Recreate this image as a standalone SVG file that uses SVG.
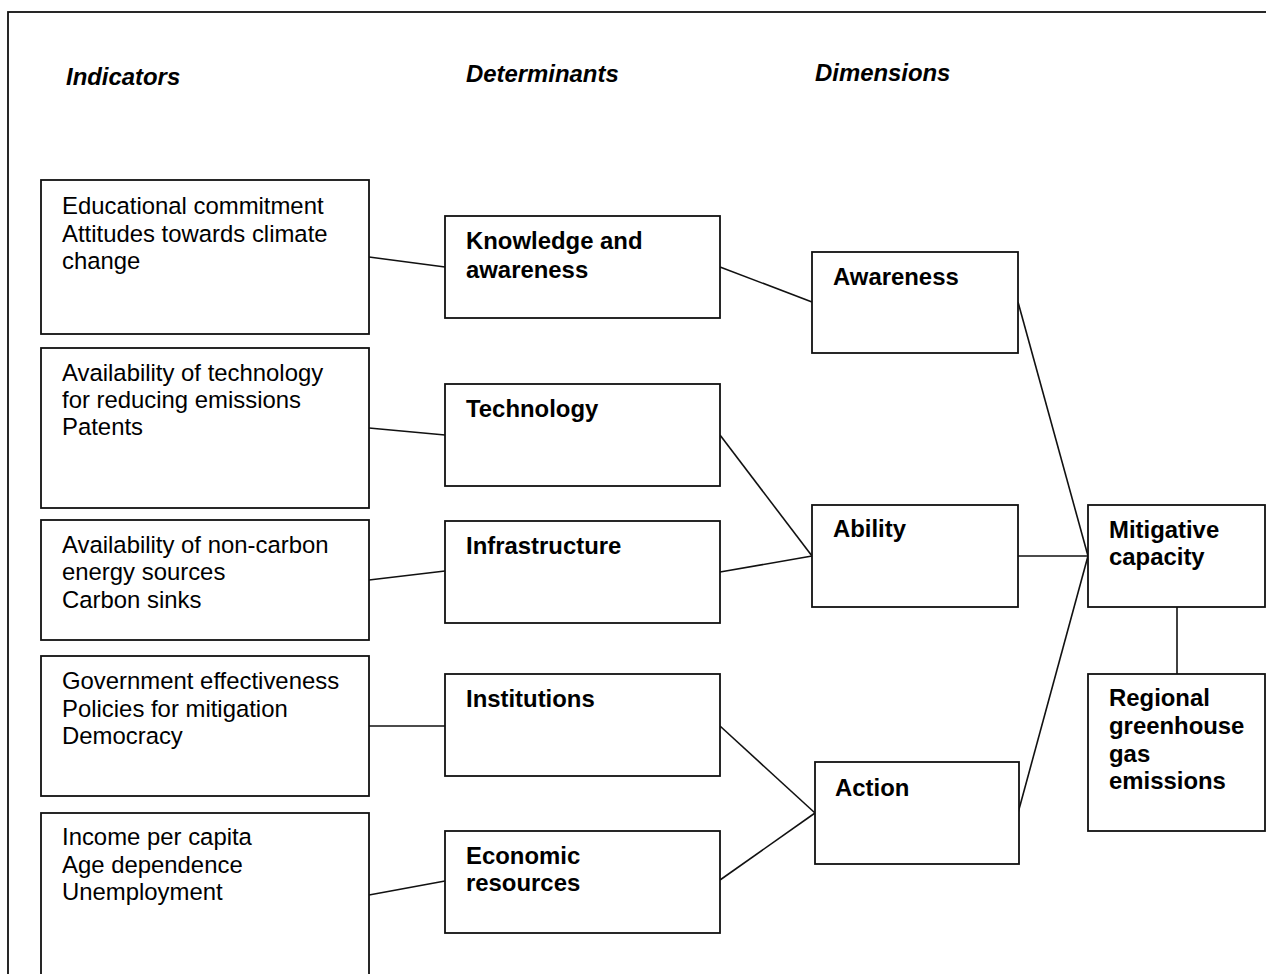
<svg xmlns="http://www.w3.org/2000/svg" width="1266" height="974" viewBox="0 0 1266 974">
  <style>
    .frame { fill: none; stroke: #111; stroke-width: 1.8; }
    .box { fill: #fff; stroke: #111; stroke-width: 1.8; }
    .link { fill: none; stroke: #111; stroke-width: 1.6; }
    text { font-family: "Liberation Sans", Arial, sans-serif; font-size: 23.9px; fill: #000; }
    .head { font-weight: bold; font-style: italic; }
    .bold { font-weight: bold; }
  </style>

  <rect width="1266" height="974" fill="#fff"/>
  <!-- outer frame, running past the right and bottom edges -->
  <rect class="frame" x="8" y="12" width="1300" height="1000"/>

  <!-- column headings -->
  <g id="headings">
    <text class="head" x="66" y="85">Indicators</text>
    <text class="head" x="466" y="82">Determinants</text>
    <text class="head" x="815" y="81">Dimensions</text>
  </g>

  <!-- connectors -->
  <g id="connectors">
    <line class="link" x1="369" y1="257" x2="445" y2="267"/>
    <line class="link" x1="369" y1="428" x2="445" y2="435"/>
    <line class="link" x1="369" y1="580" x2="445" y2="571"/>
    <line class="link" x1="369" y1="726" x2="445" y2="726"/>
    <line class="link" x1="369" y1="895" x2="445" y2="881"/>
    <line class="link" x1="720" y1="267" x2="812" y2="302"/>
    <line class="link" x1="720" y1="435" x2="812" y2="556"/>
    <line class="link" x1="720" y1="572" x2="812" y2="556"/>
    <line class="link" x1="720" y1="726" x2="815" y2="813"/>
    <line class="link" x1="720" y1="880" x2="815" y2="813"/>
    <line class="link" x1="1018" y1="302" x2="1088" y2="556"/>
    <line class="link" x1="1018" y1="556" x2="1088" y2="556"/>
    <line class="link" x1="1018" y1="813" x2="1088" y2="556"/>
    <line class="link" x1="1177" y1="607" x2="1177" y2="674"/>
  </g>

  <!-- indicators -->
  <g id="ind-awareness">
    <rect class="box" x="41" y="180" width="328" height="154"/>
    <text x="62" y="214">Educational commitment</text>
    <text x="62" y="241.5">Attitudes towards climate</text>
    <text x="62" y="269">change</text>
  </g>
  <g id="ind-technology">
    <rect class="box" x="41" y="348" width="328" height="160"/>
    <text x="62" y="381">Availability of technology</text>
    <text x="62" y="408">for reducing emissions</text>
    <text x="62" y="435">Patents</text>
  </g>
  <g id="ind-infrastructure">
    <rect class="box" x="41" y="520" width="328" height="120"/>
    <text x="62" y="553">Availability of non-carbon</text>
    <text x="62" y="580">energy sources</text>
    <text x="62" y="607.5">Carbon sinks</text>
  </g>
  <g id="ind-institutions">
    <rect class="box" x="41" y="656" width="328" height="140"/>
    <text x="62" y="689">Government effectiveness</text>
    <text x="62" y="716.5">Policies for mitigation</text>
    <text x="62" y="744">Democracy</text>
  </g>
  <g id="ind-economic">
    <rect class="box" x="41" y="813" width="328" height="200"/>
    <text x="62" y="845">Income per capita</text>
    <text x="62" y="872.5">Age dependence</text>
    <text x="62" y="900">Unemployment</text>
  </g>

  <!-- determinants -->
  <g id="det-knowledge">
    <rect class="box" x="445" y="216" width="275" height="102"/>
    <text class="bold" x="466" y="249">Knowledge and</text>
    <text class="bold" x="466" y="277.5">awareness</text>
  </g>
  <g id="det-technology">
    <rect class="box" x="445" y="384" width="275" height="102"/>
    <text class="bold" x="466" y="417">Technology</text>
  </g>
  <g id="det-infrastructure">
    <rect class="box" x="445" y="521" width="275" height="102"/>
    <text class="bold" x="466" y="554">Infrastructure</text>
  </g>
  <g id="det-institutions">
    <rect class="box" x="445" y="674" width="275" height="102"/>
    <text class="bold" x="466" y="707">Institutions</text>
  </g>
  <g id="det-economic">
    <rect class="box" x="445" y="831" width="275" height="102"/>
    <text class="bold" x="466" y="863.5">Economic</text>
    <text class="bold" x="466" y="891">resources</text>
  </g>

  <!-- dimensions -->
  <g id="dim-awareness">
    <rect class="box" x="812" y="252" width="206" height="101"/>
    <text class="bold" x="833" y="284.5">Awareness</text>
  </g>
  <g id="dim-ability">
    <rect class="box" x="812" y="505" width="206" height="102"/>
    <text class="bold" x="833" y="537">Ability</text>
  </g>
  <g id="dim-action">
    <rect class="box" x="815" y="762" width="204" height="102"/>
    <text class="bold" x="835" y="795.5">Action</text>
  </g>

  <!-- outcome -->
  <g id="mitigative-capacity">
    <rect class="box" x="1088" y="505" width="177" height="102"/>
    <text class="bold" x="1109" y="537.5">Mitigative</text>
    <text class="bold" x="1109" y="565">capacity</text>
  </g>
  <g id="regional-emissions">
    <rect class="box" x="1088" y="674" width="177" height="157"/>
    <text class="bold" x="1109" y="706">Regional</text>
    <text class="bold" x="1109" y="734">greenhouse</text>
    <text class="bold" x="1109" y="761.5">gas</text>
    <text class="bold" x="1109" y="789">emissions</text>
  </g>
</svg>
